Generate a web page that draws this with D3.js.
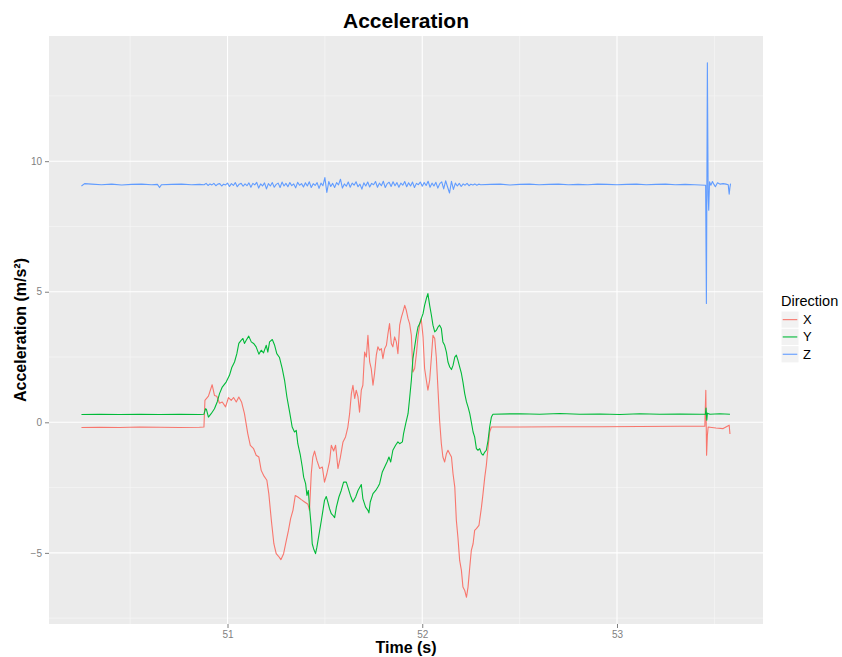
<!DOCTYPE html>
<html>
<head>
<meta charset="utf-8">
<script src="https://cdn.jsdelivr.net/npm/d3@7"></script>
<style>
  body { margin: 0; background: #fff; }
  text { font-family: "Liberation Sans", Arial, Helvetica, sans-serif; }
</style>
</head>
<body>
<script>
// ---- data: time (s) / acceleration (m/s^2) ----
const directions = ["X", "Y", "Z"];
const timeTicks = [51, 52, 53];
const accelTicks = [-5, 0, 5, 10];

const accX = [
  [50.250,-0.20],[50.342,-0.19],[50.445,-0.20],[50.548,-0.18],[50.651,-0.19],[50.753,-0.20],
  [50.856,-0.19],[50.879,-0.18],[50.884,0.84],[50.902,1.00],[50.921,1.44],[50.933,1.03],
  [50.945,1.00],[50.959,0.73],[50.973,0.78],[50.990,0.59],[51.005,0.95],[51.019,0.84],
  [51.031,0.95],[51.045,0.78],[51.058,0.97],[51.072,0.78],[51.087,0.33],[51.104,-0.43],
  [51.117,-0.88],[51.134,-1.01],[51.147,-1.26],[51.161,-1.33],[51.173,-1.84],[51.185,-2.03],
  [51.202,-2.22],[51.212,-2.73],[51.225,-3.75],[51.238,-4.65],[51.250,-5.03],[51.262,-5.13],
  [51.274,-5.26],[51.288,-5.03],[51.302,-4.52],[51.313,-4.14],[51.324,-3.69],[51.336,-3.37],
  [51.348,-2.80],[51.361,-2.86],[51.379,-2.96],[51.396,-3.05],[51.413,-3.14],[51.421,-3.37],
  [51.430,-1.97],[51.438,-1.33],[51.447,-1.10],[51.459,-1.46],[51.473,-1.77],[51.487,-1.71],
  [51.498,-2.29],[51.510,-1.97],[51.524,-1.50],[51.533,-0.88],[51.545,-1.10],[51.555,-0.88],
  [51.567,-1.77],[51.579,-1.36],[51.593,-0.75],[51.606,-0.56],[51.618,-0.18],[51.627,0.33],
  [51.636,1.10],[51.644,1.42],[51.653,0.91],[51.661,1.23],[51.670,0.97],[51.678,0.39],
  [51.687,1.23],[51.695,1.42],[51.704,2.69],[51.713,2.50],[51.721,3.33],[51.730,2.31],
  [51.738,2.06],[51.747,1.42],[51.755,1.87],[51.764,2.57],[51.772,2.89],[51.781,2.76],
  [51.790,2.82],[51.798,2.44],[51.807,2.82],[51.816,2.95],[51.824,3.40],[51.832,3.78],
  [51.841,3.02],[51.849,2.89],[51.858,3.27],[51.867,3.08],[51.875,2.63],[51.884,3.72],
  [51.893,4.03],[51.901,4.23],[51.910,4.48],[51.918,4.29],[51.927,3.97],[51.935,3.78],
  [51.944,3.33],[51.952,1.93],[51.961,2.06],[51.970,2.63],[51.978,3.27],[51.987,3.78],
  [51.995,3.97],[52.004,3.27],[52.012,2.06],[52.021,1.61],[52.029,1.23],[52.038,1.61],
  [52.047,2.50],[52.055,3.33],[52.064,3.21],[52.072,2.50],[52.081,1.23],[52.089,0.08],
  [52.098,-0.82],[52.106,-1.33],[52.115,-1.52],[52.124,-1.20],[52.132,-1.07],[52.141,-1.20],
  [52.150,-1.33],[52.158,-1.97],[52.167,-2.48],[52.175,-3.75],[52.183,-4.39],[52.192,-5.29],
  [52.201,-5.67],[52.209,-6.31],[52.218,-6.44],[52.227,-6.70],[52.235,-6.31],[52.244,-5.54],
  [52.252,-4.90],[52.261,-4.65],[52.269,-4.14],[52.278,-4.07],[52.291,-3.95],[52.304,-3.25],
  [52.312,-2.73],[52.321,-2.10],[52.329,-1.65],[52.338,-0.95],[52.346,-0.37],[52.355,-0.18],
  [52.363,-0.18],[52.501,-0.18],[52.706,-0.17],[52.912,-0.17],[53.117,-0.16],[53.323,-0.15],
  [53.451,-0.15],[53.456,1.23],[53.460,-1.26],[53.464,-0.50],[53.468,-0.18],[53.487,-0.20],
  [53.508,-0.22],[53.545,-0.24],[53.576,-0.11],[53.580,-0.45]
];

const accY = [
  [50.250,0.30],[50.342,0.31],[50.445,0.30],[50.548,0.31],[50.651,0.30],[50.753,0.31],
  [50.856,0.30],[50.879,0.31],[50.887,0.52],[50.892,0.49],[50.902,0.20],[50.916,0.33],
  [50.933,0.52],[50.947,0.78],[50.959,1.10],[50.973,1.35],[50.993,1.54],[51.010,1.80],
  [51.022,2.10],[51.036,2.31],[51.048,2.63],[51.058,3.02],[51.070,3.14],[51.079,3.21],
  [51.087,3.02],[51.096,3.14],[51.109,3.30],[51.122,3.08],[51.134,3.02],[51.147,2.89],
  [51.161,2.61],[51.173,2.76],[51.185,2.66],[51.199,2.95],[51.207,2.69],[51.216,3.08],
  [51.230,3.17],[51.242,2.95],[51.253,2.63],[51.267,2.48],[51.281,2.06],[51.293,1.61],
  [51.305,0.97],[51.319,0.39],[51.332,-0.18],[51.344,-0.37],[51.353,-0.31],[51.361,-0.82],
  [51.374,-1.26],[51.384,-1.71],[51.391,-2.10],[51.401,-2.35],[51.408,-2.80],[51.415,-2.61],
  [51.421,-3.25],[51.430,-4.01],[51.435,-4.65],[51.442,-4.84],[51.452,-5.03],[51.459,-4.78],
  [51.469,-4.33],[51.482,-3.75],[51.490,-3.37],[51.498,-2.99],[51.507,-2.84],[51.515,-3.05],
  [51.524,-3.31],[51.533,-3.50],[51.541,-3.56],[51.550,-3.65],[51.559,-3.25],[51.572,-2.86],
  [51.584,-2.61],[51.596,-2.29],[51.610,-2.29],[51.618,-2.48],[51.631,-2.80],[51.644,-3.05],
  [51.658,-2.86],[51.670,-2.61],[51.687,-2.38],[51.695,-2.92],[51.709,-3.25],[51.721,-3.37],
  [51.726,-3.47],[51.733,-3.05],[51.747,-2.73],[51.761,-2.61],[51.772,-2.48],[51.781,-2.35],
  [51.795,-1.90],[51.807,-1.71],[51.819,-1.52],[51.829,-1.33],[51.838,-1.52],[51.849,-1.07],
  [51.863,-0.88],[51.875,-0.75],[51.884,-0.82],[51.898,-0.75],[51.904,-0.43],[51.915,-0.05],
  [51.927,0.33],[51.935,0.91],[51.944,1.61],[51.952,2.44],[51.961,2.89],[51.970,3.33],
  [51.978,3.65],[51.987,3.78],[51.995,3.97],[52.004,4.16],[52.012,4.48],[52.021,4.74],
  [52.029,4.93],[52.038,4.48],[52.047,4.10],[52.055,3.72],[52.064,3.46],[52.072,3.52],
  [52.081,3.65],[52.089,3.72],[52.098,3.59],[52.106,3.08],[52.115,2.95],[52.124,2.69],
  [52.132,2.31],[52.141,2.12],[52.150,2.02],[52.158,2.18],[52.167,2.50],[52.175,2.57],
  [52.183,2.38],[52.192,2.12],[52.201,1.87],[52.209,1.54],[52.218,1.10],[52.227,0.78],
  [52.235,0.59],[52.244,0.33],[52.252,0.01],[52.261,-0.37],[52.269,-0.56],[52.278,-1.01],
  [52.286,-1.07],[52.295,-1.01],[52.304,-1.20],[52.312,-1.26],[52.321,-1.14],[52.329,-1.07],
  [52.338,-0.69],[52.346,-0.18],[52.355,0.20],[52.363,0.31],[52.501,0.33],[52.603,0.31],
  [52.706,0.34],[52.809,0.31],[52.912,0.32],[53.014,0.30],[53.117,0.33],[53.220,0.31],
  [53.323,0.32],[53.426,0.31],[53.454,0.31],[53.457,0.55],[53.461,0.08],[53.464,0.35],
  [53.477,0.31],[53.528,0.33],[53.580,0.31]
];

const accZ = [
  [50.250,9.05],[50.266,9.14],[50.302,9.12],[50.353,9.10],[50.405,9.12],[50.456,9.09],
  [50.507,9.11],[50.559,9.12],[50.610,9.10],[50.640,9.11],[50.651,8.99],[50.661,9.10],
  [50.713,9.11],[50.764,9.12],[50.815,9.10],[50.856,9.11],
  [50.88,9.10],[50.89,9.15],[50.90,9.07],[50.91,9.13],[50.92,9.09],[50.93,9.15],[50.94,9.06],
  [50.95,9.12],[50.96,9.14],[50.97,9.05],[50.98,9.12],[50.99,9.09],
  [51.00,9.16],[51.01,9.03],[51.02,9.14],[51.03,9.07],[51.04,9.18],[51.05,9.02],[51.06,9.12],
  [51.07,9.15],[51.08,9.04],[51.09,9.13],
  [51.10,9.06],[51.11,9.17],[51.12,9.00],[51.13,9.15],[51.14,9.09],[51.15,9.19],[51.16,8.97],
  [51.17,9.13],[51.18,9.05],[51.19,9.17],
  [51.20,8.94],[51.21,9.14],[51.22,9.05],[51.23,9.18],[51.24,9.00],[51.25,9.11],[51.26,9.16],
  [51.27,8.99],[51.28,9.20],[51.29,9.05],
  [51.30,9.15],[51.31,9.02],[51.32,9.18],[51.33,9.06],[51.34,9.13],[51.35,8.98],[51.36,9.19],
  [51.37,9.08],[51.38,9.14],[51.39,9.01],
  [51.40,9.17],[51.41,9.05],[51.42,9.21],[51.43,8.99],[51.44,9.14],[51.45,9.07],[51.46,9.18],
  [51.47,8.96],[51.48,9.16],[51.49,9.06],
  [51.50,9.37],[51.51,8.80],[51.52,9.22],[51.53,9.03],[51.54,9.15],[51.55,8.99],[51.56,9.18],
  [51.57,9.09],[51.58,9.31],[51.59,8.97],
  [51.60,9.13],[51.61,9.04],[51.62,9.20],[51.63,9.00],[51.64,9.16],[51.65,9.08],[51.66,9.21],
  [51.67,9.02],[51.68,9.12],[51.69,8.93],
  [51.70,9.17],[51.71,9.05],[51.72,9.20],[51.73,9.01],[51.74,9.15],[51.75,9.10],[51.76,9.22],
  [51.77,9.00],[51.78,9.16],[51.79,9.06],
  [51.80,9.23],[51.81,8.99],[51.82,9.14],[51.83,9.19],[51.84,9.03],[51.85,9.21],[51.86,9.06],
  [51.87,9.18],[51.88,9.00],[51.89,9.16],
  [51.90,9.08],[51.91,9.22],[51.92,9.02],[51.93,9.17],[51.94,9.05],[51.95,9.20],[51.96,8.99],
  [51.97,9.15],[51.98,9.10],[51.99,9.20],
  [52.00,9.04],[52.01,9.18],[52.02,9.07],[52.03,9.23],[52.04,9.00],[52.05,9.16],[52.06,9.05],
  [52.07,9.19],[52.08,8.97],[52.09,9.14],
  [52.10,9.21],[52.11,8.94],[52.12,9.25],[52.13,9.01],[52.14,8.78],[52.15,9.23],[52.16,8.92],
  [52.17,9.16],[52.18,9.05],[52.19,9.15],
  [52.20,9.03],[52.21,9.13],[52.22,9.08],[52.23,9.15],[52.24,9.06],[52.25,9.12],[52.26,9.09],
  [52.27,9.13],[52.28,9.08],[52.29,9.12],[52.30,9.10],
  [52.35,9.11],[52.40,9.12],[52.45,9.09],[52.50,9.11],[52.55,9.12],[52.60,9.10],[52.65,9.11],
  [52.70,9.12],[52.75,9.10],[52.80,9.11],[52.85,9.10],[52.90,9.12],[52.95,9.11],[53.00,9.10],
  [53.05,9.11],[53.10,9.12],[53.15,9.10],[53.20,9.11],[53.25,9.12],[53.30,9.10],[53.35,9.11],
  [53.40,9.10],[53.455,9.08],[53.459,4.55],[53.464,13.77],[53.468,8.70],[53.471,8.12],
  [53.475,9.21],[53.482,9.08],[53.490,9.22],[53.497,9.12],[53.505,9.02],[53.516,9.17],
  [53.530,9.12],[53.545,9.14],[53.560,9.12],[53.571,9.10],[53.576,8.74],[53.580,9.00],
  [53.583,9.14]
];

const seriesColours = ["#F8766D", "#00BA38", "#619CFF"];

// ---- layout ----
const W = 842, H = 657;
const panel = {left: 49, top: 36, right: 763, bottom: 624};

const svg = d3.select("body").append("svg")
    .attr("width", W)
    .attr("height", H);

svg.append("rect").attr("width", W).attr("height", H).attr("fill", "#fff");

const all = accX.concat(accY, accZ);
const expand = (ext) => {
    let d = (ext[1] - ext[0]) * 0.05;
    return [ext[0] - d, ext[1] + d];
};
const x = d3.scaleLinear()
    .domain(expand(d3.extent(all, d => d[0])))
    .range([panel.left, panel.right]);
const y = d3.scaleLinear()
    .domain(expand(d3.extent(all, d => d[1])))
    .range([panel.bottom, panel.top]);

// panel + grid
svg.append("rect")
    .attr("x", panel.left).attr("y", panel.top)
    .attr("width", panel.right - panel.left)
    .attr("height", panel.bottom - panel.top)
    .attr("fill", "#EBEBEB");

const minorX = [50.5, 51.5, 52.5, 53.5].filter(v => v > x.domain()[0] && v < x.domain()[1]);
const minorY = [-7.5, -2.5, 2.5, 7.5, 12.5].filter(v => v > y.domain()[0] && v < y.domain()[1]);

const grid = svg.append("g");
grid.selectAll(".mx").data(minorX).join("line")
    .attr("x1", d => x(d)).attr("x2", d => x(d))
    .attr("y1", panel.top).attr("y2", panel.bottom)
    .attr("stroke", "#F7F7F7").attr("stroke-width", 0.7);
grid.selectAll(".my").data(minorY).join("line")
    .attr("y1", d => y(d)).attr("y2", d => y(d))
    .attr("x1", panel.left).attr("x2", panel.right)
    .attr("stroke", "#F7F7F7").attr("stroke-width", 0.7);
grid.selectAll(".Mx").data(timeTicks).join("line")
    .attr("x1", d => x(d)).attr("x2", d => x(d))
    .attr("y1", panel.top).attr("y2", panel.bottom)
    .attr("stroke", "#fff").attr("stroke-width", 1.1);
grid.selectAll(".My").data(accelTicks).join("line")
    .attr("y1", d => y(d)).attr("y2", d => y(d))
    .attr("x1", panel.left).attr("x2", panel.right)
    .attr("stroke", "#fff").attr("stroke-width", 1.1);

// lines
const line = d3.line().x(d => x(d[0])).y(d => y(d[1]));
[accX, accY, accZ].forEach((s, i) => {
    svg.append("path")
        .datum(s)
        .attr("d", line)
        .attr("fill", "none")
        .attr("stroke", seriesColours[i])
        .attr("stroke-width", 1.1)
        .attr("stroke-linejoin", "round");
});

// axes
const xAxis = svg.append("g")
    .attr("transform", `translate(0,${panel.bottom})`)
    .call(d3.axisBottom(x).tickValues(timeTicks).tickFormat(d3.format("d"))
        .tickSize(4).tickPadding(3));
const yAxis = svg.append("g")
    .attr("transform", `translate(${panel.left},0)`)
    .call(d3.axisLeft(y).tickValues(accelTicks).tickFormat(d3.format("d"))
        .tickSize(4).tickPadding(3));
[xAxis, yAxis].forEach(a => {
    a.select(".domain").remove();
    a.selectAll(".tick line").attr("stroke", "#7F7F7F");
    a.selectAll(".tick text")
        .attr("fill", "#7F7F7F")
        .style("font-size", "10px")
        .style("font-family", '"Liberation Sans", Arial, sans-serif');
});

// titles
svg.append("text")
    .attr("x", (panel.left + panel.right) / 2).attr("y", 28)
    .attr("text-anchor", "middle")
    .style("font-size", "21px").style("font-weight", "bold")
    .text("Acceleration");

svg.append("text")
    .attr("x", (panel.left + panel.right) / 2).attr("y", 653)
    .attr("text-anchor", "middle")
    .style("font-size", "16px").style("font-weight", "bold")
    .text("Time (s)");

svg.append("text")
    .attr("transform", `translate(26,${(panel.top + panel.bottom) / 2}) rotate(-90)`)
    .attr("text-anchor", "middle")
    .style("font-size", "16px").style("font-weight", "bold")
    .text("Acceleration (m/s²)");

// legend
const lg = svg.append("g").attr("transform", "translate(781,0)");
lg.append("text")
    .attr("x", 0).attr("y", 306)
    .style("font-size", "14.5px")
    .text("Direction");
const keyH = 17.3;
const keys = lg.selectAll(".key").data(directions).join("g")
    .attr("transform", (d, i) => `translate(0,${311 + i * keyH})`);
keys.append("rect")
    .attr("width", 18).attr("height", keyH)
    .attr("fill", "#F2F2F2").attr("stroke", "#fff").attr("stroke-width", 1);
keys.append("line")
    .attr("x1", 1.7).attr("x2", 16.3)
    .attr("y1", keyH / 2).attr("y2", keyH / 2)
    .attr("stroke", (d, i) => seriesColours[i])
    .attr("stroke-width", 1.1);
keys.append("text")
    .attr("x", 22).attr("y", keyH / 2 + 4.5)
    .style("font-size", "13px")
    .text(d => d);
</script>
</body>
</html>
